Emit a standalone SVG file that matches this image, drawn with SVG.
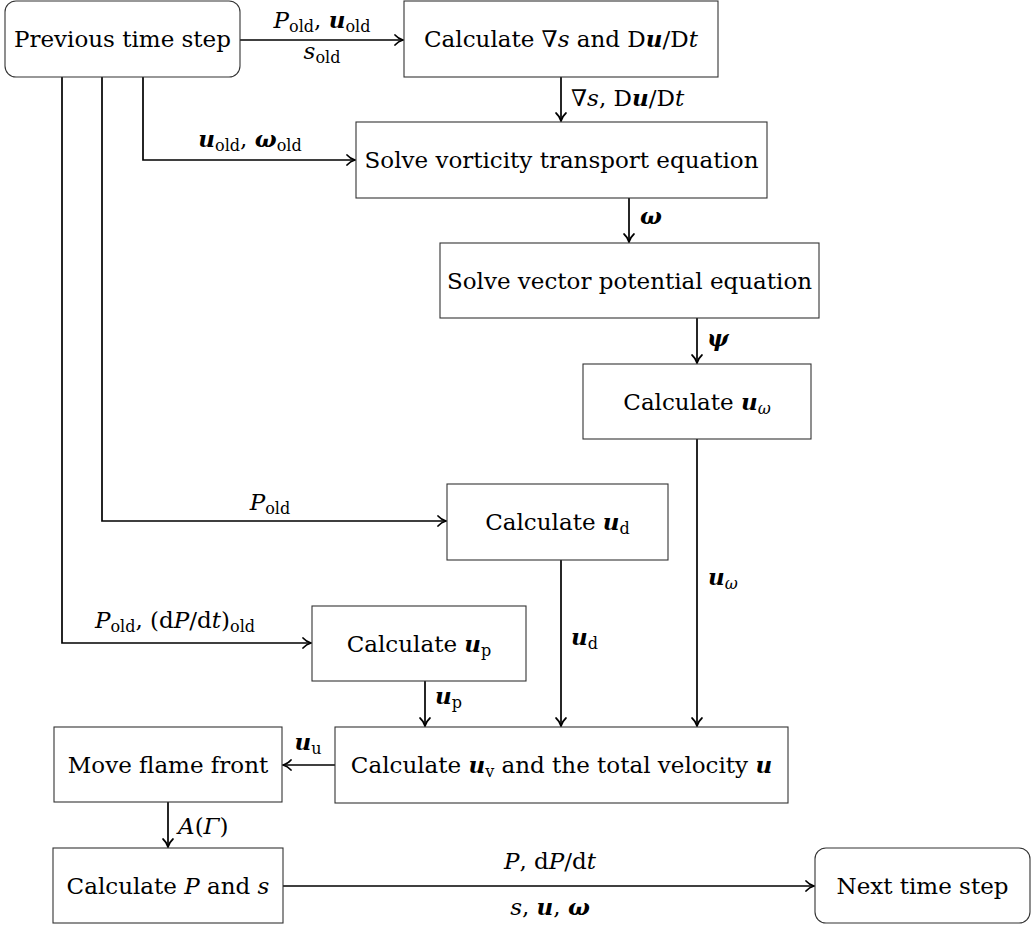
<svg xmlns="http://www.w3.org/2000/svg" width="1034" height="927" viewBox="0 0 1034 927">
<style>
text{font-family:"DejaVu Serif","Liberation Serif",serif;font-size:23px;fill:#000}
.c{text-anchor:middle}
.i{font-style:italic}
.b{font-style:italic;font-weight:bold}
.s{font-size:16px}
.box{fill:#fff;stroke:#333;stroke-width:1.1}
.con{fill:none;stroke:#000;stroke-width:1.7}
</style>
<defs>
<marker id="ah" markerUnits="userSpaceOnUse" markerWidth="14" markerHeight="14" viewBox="-9 -7 11 14" refX="0" refY="0" orient="auto">
<path d="M-8,-5 C-5.5,-2.2 -2.2,-0.6 0,0 C-2.2,0.6 -5.5,2.2 -8,5" fill="none" stroke="#000" stroke-width="1.7" stroke-linecap="round"/>
</marker>
</defs>

<g id="connectors">
<path class="con" d="M240,40 H403" marker-end="url(#ah)"/>
<path class="con" d="M561,77 V121" marker-end="url(#ah)"/>
<path class="con" d="M143,77 V160 H355" marker-end="url(#ah)"/>
<path class="con" d="M629,198 V242" marker-end="url(#ah)"/>
<path class="con" d="M697,318 V363" marker-end="url(#ah)"/>
<path class="con" d="M697,439 V726" marker-end="url(#ah)"/>
<path class="con" d="M102,77 V521 H446" marker-end="url(#ah)"/>
<path class="con" d="M561,560 V726" marker-end="url(#ah)"/>
<path class="con" d="M62,77 V643 H311" marker-end="url(#ah)"/>
<path class="con" d="M425,681 V726" marker-end="url(#ah)"/>
<path class="con" d="M335,765 H283" marker-end="url(#ah)"/>
<path class="con" d="M168,802 V847" marker-end="url(#ah)"/>
<path class="con" d="M283,886 H814" marker-end="url(#ah)"/>

<text class="c" x="322" y="28"><tspan class="i">P</tspan><tspan class="s" dy="4">old</tspan><tspan dy="-4">, </tspan><tspan class="b">u</tspan><tspan class="s" dy="4">old</tspan></text>
<text class="c" x="322" y="59"><tspan class="i">s</tspan><tspan class="s" dy="4">old</tspan></text>
<text x="571" y="106">∇<tspan class="i">s</tspan>, D<tspan class="b">u</tspan>/D<tspan class="i">t</tspan></text>
<text class="c" x="250" y="147"><tspan class="b">u</tspan><tspan class="s" dy="4">old</tspan><tspan dy="-4">, </tspan><tspan class="b">ω</tspan><tspan class="s" dy="4">old</tspan></text>
<text x="640" y="224" class="b">ω</text>
<text x="707" y="346" class="b">ψ</text>
<text x="708" y="585"><tspan class="b">u</tspan><tspan class="s i" dy="4">ω</tspan></text>
<text class="c" x="270" y="510"><tspan class="i">P</tspan><tspan class="s" dy="4">old</tspan></text>
<text x="571" y="645"><tspan class="b">u</tspan><tspan class="s" dy="4">d</tspan></text>
<text x="95" y="628"><tspan class="i">P</tspan><tspan class="s" dy="4">old</tspan><tspan dy="-4">, (d</tspan><tspan class="i">P</tspan>/d<tspan class="i">t</tspan>)<tspan class="s" dy="4">old</tspan></text>
<text x="435" y="704"><tspan class="b">u</tspan><tspan class="s" dy="4">p</tspan></text>
<text class="c" x="308" y="750"><tspan class="b">u</tspan><tspan class="s" dy="4">u</tspan></text>
<text x="178" y="834"><tspan class="i">A</tspan>(<tspan class="i">Γ</tspan>)</text>
<text class="c" x="550" y="869"><tspan class="i">P</tspan>, d<tspan class="i">P</tspan>/d<tspan class="i">t</tspan></text>
<text class="c" x="550" y="915"><tspan class="i">s</tspan>, <tspan class="b">u</tspan>, <tspan class="b">ω</tspan></text>
</g>

<g id="prev">
<rect class="box" x="5" y="1" width="235" height="76" rx="11"/>
<text class="c" x="122.5" y="47">Previous time step</text>
</g>
<g id="gradient">
<rect class="box" x="404" y="1" width="314" height="76"/>
<text class="c" x="561" y="47">Calculate ∇<tspan class="i">s</tspan> and D<tspan class="b">u</tspan>/D<tspan class="i">t</tspan></text>
</g>
<g id="vorticity">
<rect class="box" x="356" y="122" width="411" height="76"/>
<text class="c" x="561.5" y="168">Solve vorticity transport equation</text>
</g>
<g id="vectorpot">
<rect class="box" x="440" y="243" width="379" height="75"/>
<text class="c" x="629.5" y="289">Solve vector potential equation</text>
</g>
<g id="uomega">
<rect class="box" x="583" y="364" width="228" height="75"/>
<text class="c" x="697" y="410">Calculate <tspan class="b">u</tspan><tspan class="s i" dy="4">ω</tspan></text>
</g>
<g id="ud">
<rect class="box" x="447" y="484" width="221" height="76"/>
<text class="c" x="557.5" y="530">Calculate <tspan class="b">u</tspan><tspan class="s" dy="4">d</tspan></text>
</g>
<g id="up">
<rect class="box" x="312" y="606" width="214" height="75"/>
<text class="c" x="419" y="652">Calculate <tspan class="b">u</tspan><tspan class="s" dy="4">p</tspan></text>
</g>
<g id="uv">
<rect class="box" x="335" y="727" width="453" height="76"/>
<text class="c" x="561.5" y="773">Calculate <tspan class="b">u</tspan><tspan class="s" dy="4">v</tspan><tspan dy="-4"> and the total velocity </tspan><tspan class="b">u</tspan></text>
</g>
<g id="flame">
<rect class="box" x="54" y="727" width="228" height="75"/>
<text class="c" x="168" y="773">Move flame front</text>
</g>
<g id="pands">
<rect class="box" x="53" y="848" width="230" height="75"/>
<text class="c" x="168" y="894">Calculate <tspan class="i">P</tspan> and <tspan class="i">s</tspan></text>
</g>
<g id="next">
<rect class="box" x="815" y="848" width="215" height="75" rx="11"/>
<text class="c" x="922.5" y="894">Next time step</text>
</g>
</svg>
